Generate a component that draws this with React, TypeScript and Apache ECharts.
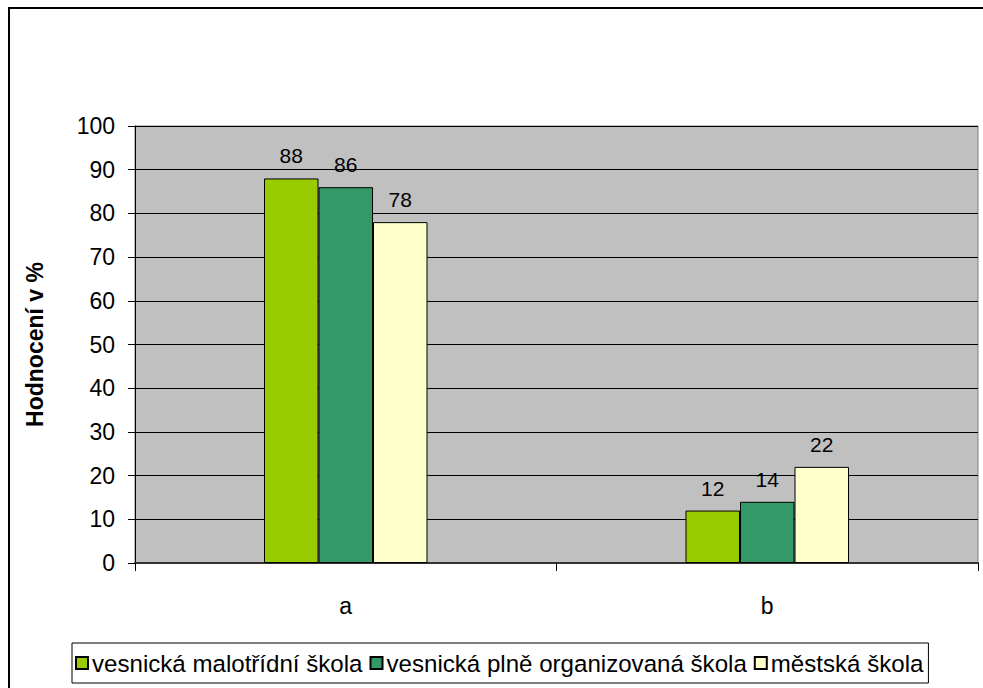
import React, { useEffect, useRef } from "react";
import * as echarts from "echarts";

const categories = ["a", "b"];
const seriesNames = [
  "vesnická malotřídní škola",
  "vesnická plně organizovaná škola",
  "městská škola",
];
const malotridni = [88, 12];
const plneOrganizovana = [86, 14];
const mestska = [78, 22];
const colors = ["#99CC00", "#339966", "#FFFFCC"];
const yTicks = { min: 0, max: 100, interval: 10 };
const yAxisName = "Hodnocení v %";

const FONT = "'Liberation Sans', Arial, sans-serif";

export default function App() {
  const ref = useRef<HTMLDivElement>(null);
  useEffect(() => {
    if (!ref.current) return;
    const chart = echarts.init(ref.current, undefined, { renderer: "svg" });
    const values = [malotridni, plneOrganizovana, mestska];
    chart.setOption({
      animation: false,
      backgroundColor: "#fff",
      textStyle: { fontFamily: FONT },
      graphic: [
        {
          type: "rect",
          shape: { x: 9, y: 8, width: 1000, height: 700 },
          style: { fill: "none", stroke: "#000", lineWidth: 2 },
          z: 100,
        },
      ],
      grid: {
        left: 135,
        top: 126,
        right: 5,
        bottom: 125,
        show: true,
        backgroundColor: "#C0C0C0",
        borderColor: "#808080",
        borderWidth: 1,
      },
      legend: {
        left: 72,
        top: 643,
        padding: [8, 5, 8, 3],
        itemGap: 7,
        itemWidth: 12,
        itemHeight: 12,
        backgroundColor: "#fff",
        borderColor: "#000",
        borderWidth: 1,
        icon: "rect",
        textStyle: { fontFamily: FONT, fontSize: 24.1, color: "#000", padding: [0, 0, 0, -1] },
        data: seriesNames,
      },
      xAxis: {
        type: "category",
        data: categories,
        axisLine: { show: true, lineStyle: { color: "#333", width: 2 } },
        axisTick: { show: true, length: 8, lineStyle: { color: "#000" } },
        axisLabel: { fontFamily: FONT, fontSize: 23, color: "#000", margin: 31 },
        splitLine: { show: false },
      },
      yAxis: {
        type: "value",
        min: yTicks.min,
        max: yTicks.max,
        interval: yTicks.interval,
        name: yAxisName,
        nameLocation: "middle",
        nameGap: 89,
        nameTextStyle: { fontFamily: FONT, fontSize: 23, fontWeight: "bold", color: "#000" },
        axisLine: { show: true, lineStyle: { color: "#000", width: 1 } },
        axisTick: { show: true, length: 7, lineStyle: { color: "#000" } },
        axisLabel: { fontFamily: FONT, fontSize: 23, color: "#000", margin: 20 },
        splitLine: { show: true, lineStyle: { color: "#000", width: 1 } },
      },
      series: seriesNames.map((name, i) => ({
        name,
        type: "bar",
        data: values[i],
        barWidth: 54.5,
        barGap: "0%",
        itemStyle: { color: colors[i], borderColor: "#000", borderWidth: 1 },
        label: {
          show: true,
          position: "top",
          distance: 12,
          fontFamily: FONT,
          fontSize: 21,
          color: "#000",
        },
      })),
    });
    return () => chart.dispose();
  }, []);
  return (
    <div
      ref={ref}
      style={{ position: "fixed", left: 0, top: 0, width: 983, height: 688 }}
    />
  );
}
